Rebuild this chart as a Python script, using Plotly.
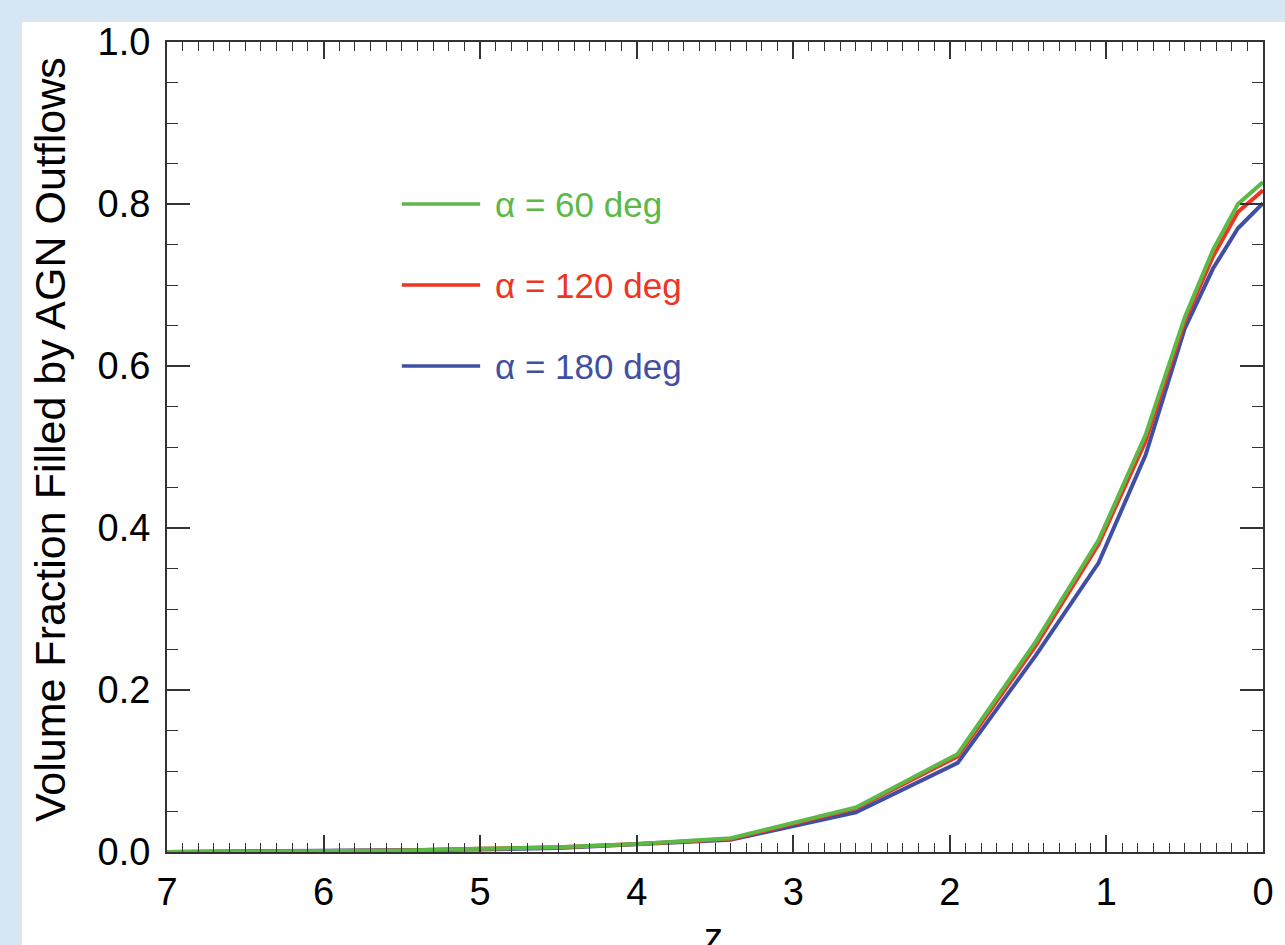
import plotly.graph_objects as go

# ---- data ----
z_vals = [7.0, 6.5, 6.0, 5.5, 5.0, 4.5, 4.0, 3.4, 2.6, 1.95, 1.45, 1.05, 0.75, 0.5, 0.32, 0.16, 0.0]
frac_60 = [0.0, 0.0005, 0.001, 0.002, 0.004, 0.006, 0.010, 0.017, 0.055, 0.121, 0.260, 0.385, 0.515, 0.660, 0.743, 0.800, 0.827]
frac_120 = [0.0, 0.0005, 0.001, 0.002, 0.004, 0.006, 0.010, 0.016, 0.054, 0.118, 0.255, 0.380, 0.507, 0.655, 0.735, 0.790, 0.817]
frac_180 = [0.0, 0.0005, 0.001, 0.002, 0.003, 0.005, 0.009, 0.015, 0.049, 0.110, 0.243, 0.357, 0.490, 0.646, 0.720, 0.770, 0.801]

series_names = ["α = 60 deg", "α = 120 deg", "α = 180 deg"]
series_colors = ["#5cb946", "#ee3524", "#3f4fa3"]
legend_y = [0.8, 0.7, 0.6]
legend_x = [5.5, 5.0]
x_ticks = [7, 6, 5, 4, 3, 2, 1, 0]
y_ticks = [0.0, 0.2, 0.4, 0.6, 0.8, 1.0]

FONT = "Liberation Sans, Arial, Helvetica, sans-serif"
W, H = 1285, 945
L, R, T, B = 167, 22, 42, 93
pw, ph = W - L - R, H - T - B

def px_x(p):
    return (p - L) / pw

def px_y(p):
    return (H - B - p) / ph

fig = go.Figure()
data_sets = [frac_60, frac_120, frac_180]
# draw blue first, green last (green on top)
for idx in [2, 1, 0]:
    fig.add_trace(go.Scatter(
        x=z_vals, y=data_sets[idx], mode="lines",
        line=dict(color=series_colors[idx], width=4),
        name=series_names[idx], showlegend=False,
    ))

shapes = [
    dict(type="rect", xref="paper", yref="paper",
         x0=px_x(22), x1=px_x(1290), y0=px_y(950), y1=px_y(22),
         fillcolor="white", line=dict(width=0), layer="below"),
]
annotations = []
for name, col, yy in zip(series_names, series_colors, legend_y):
    shapes.append(dict(type="line", xref="x", yref="y",
                       x0=legend_x[0], x1=legend_x[1], y0=yy, y1=yy,
                       line=dict(color=col, width=3.5)))
    annotations.append(dict(x=4.92, y=yy, xref="x", yref="y", text=name,
                            showarrow=False, xanchor="left", yanchor="middle",
                            font=dict(family=FONT, size=35, color=col)))

annotations.append(dict(x=px_x(50), y=px_y(440), xref="paper", yref="paper",
                        text="Volume Fraction Filled by AGN Outflows", textangle=-90,
                        showarrow=False, xanchor="center", yanchor="middle",
                        font=dict(family=FONT, size=43, color="black")))
annotations.append(dict(x=px_x(713), y=px_y(914), xref="paper", yref="paper",
                        text="z", showarrow=False, xanchor="center", yanchor="top",
                        font=dict(family=FONT, size=38, color="black")))

axis_common = dict(
    showgrid=False, zeroline=False, showline=True, linecolor="#333333", linewidth=2,
    mirror="ticks", ticks="inside", tickcolor="#333333", tickwidth=1.6,
    tickfont=dict(family=FONT, size=38, color="black"),
)

fig.update_layout(
    width=W, height=H,
    margin=dict(l=L, r=R, t=T, b=B),
    paper_bgcolor="#d6e6f2", plot_bgcolor="white",
    shapes=shapes, annotations=annotations,
    showlegend=False,
    xaxis=dict(range=[7, 0], tickvals=x_ticks, ticktext=[str(v) for v in x_ticks],
               ticklen=17, ticklabelstandoff=5,
               minor=dict(dtick=0.1, ticks="inside", ticklen=9, tickcolor="#333333", tickwidth=1.4),
               **axis_common),
    yaxis=dict(range=[0, 1], tickvals=y_ticks, ticktext=[f"{v:.1f}" for v in y_ticks],
               ticklen=23, ticklabelstandoff=7,
               minor=dict(dtick=0.05, ticks="inside", ticklen=11, tickcolor="#333333", tickwidth=1.4),
               **axis_common),
)

fig.write_html("out.html", config={"displayModeBar": False},
               post_script="document.body.style.margin='0px';")
